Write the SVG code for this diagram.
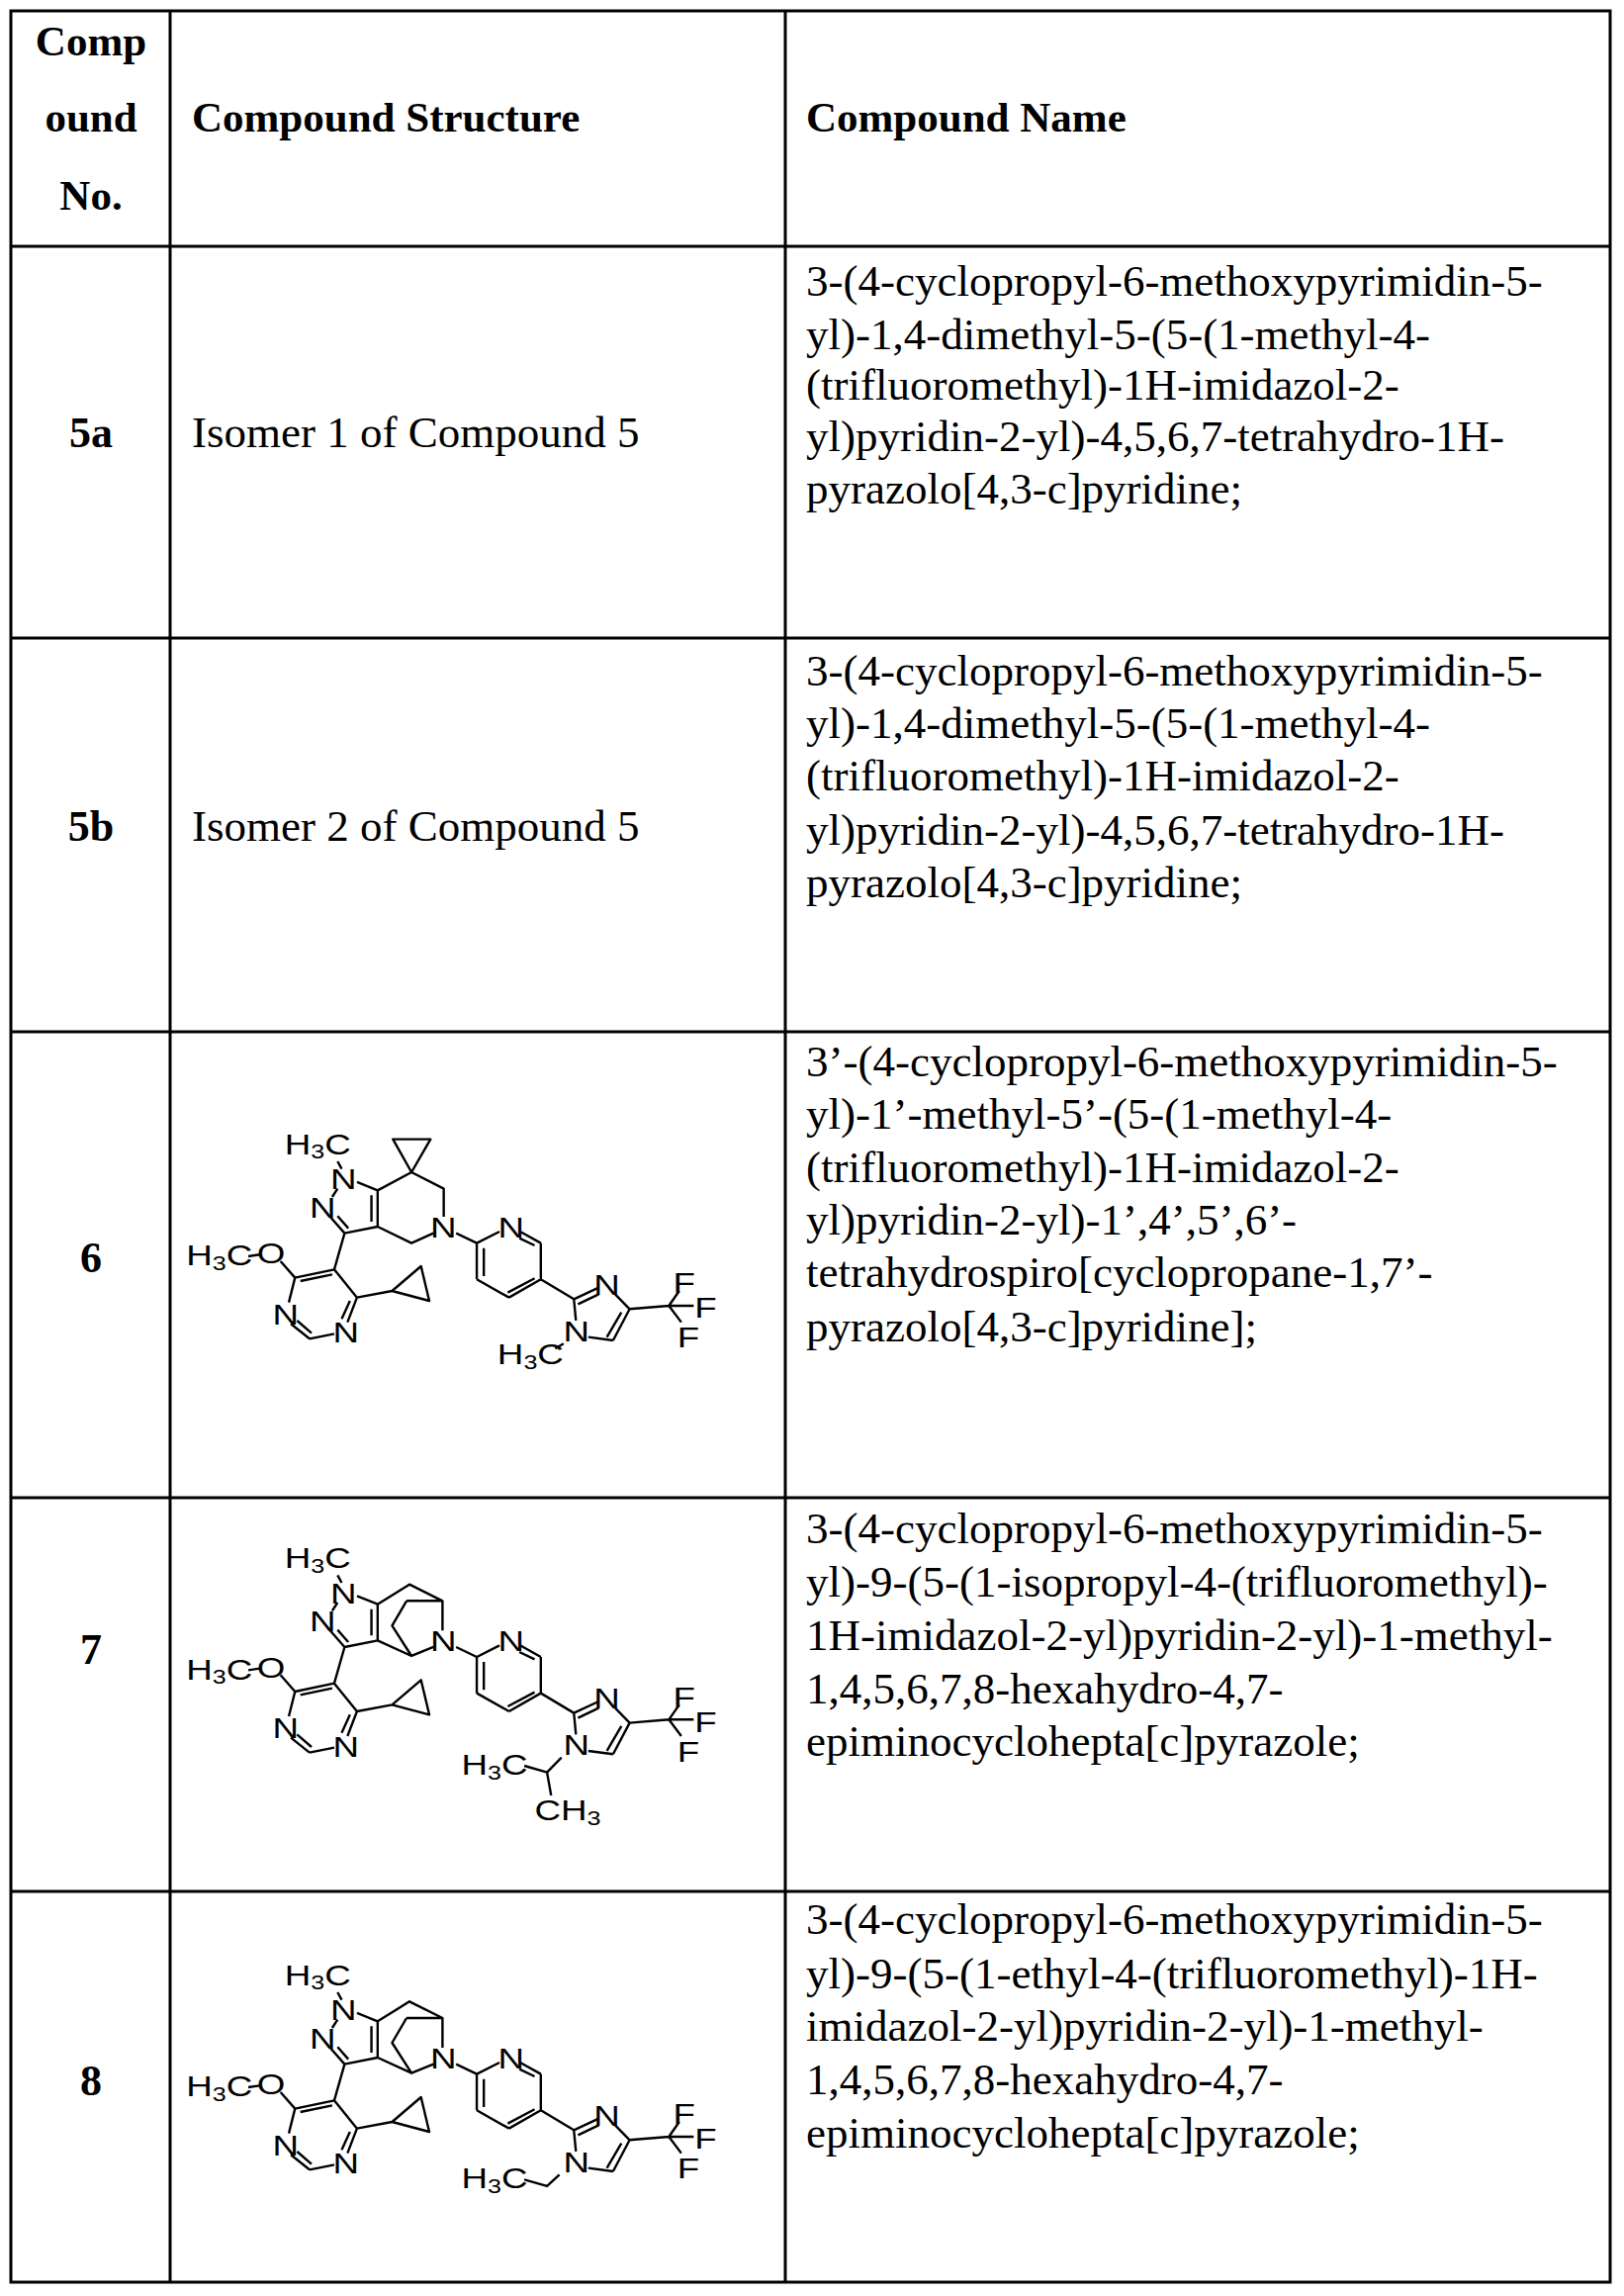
<svg xmlns="http://www.w3.org/2000/svg" xmlns:xlink="http://www.w3.org/1999/xlink" width="1642" height="2321" viewBox="0 0 1642 2321">
<style>
.g{stroke:#000;stroke-width:3;fill:none}
.b{stroke:#000;stroke-width:2.4;fill:none;vector-effect:non-scaling-stroke;stroke-linejoin:round}
.h{font-family:"Liberation Serif",serif;font-weight:bold;font-size:43px}
.n{font-family:"Liberation Serif",serif;font-size:45px}
.nb{font-family:"Liberation Serif",serif;font-weight:bold;font-size:44px;text-anchor:middle}
.a{font-family:"Liberation Sans",sans-serif;font-size:88px;text-anchor:middle}
.s{font-size:60px}
</style>
<defs>
<g id="core">
<text class="a" x="410" y="195">H<tspan class="s" dy="14">3</tspan><tspan dy="-14">C</tspan></text>
<text class="a" x="472" y="302">N</text>
<text class="a" x="422" y="387">N</text>
<text class="a" x="332" y="712">N</text>
<text class="a" x="478" y="767">N</text>
<text class="a" x="297" y="527">O</text>
<text class="a" x="172" y="533">H<tspan class="s" dy="14">3</tspan><tspan dy="-14">C</tspan></text>
<text class="a" x="714" y="447">N</text>
<text class="a" x="878" y="447">N</text>
<text class="a" x="1110" y="622">N</text>
<text class="a" x="1036" y="762">N</text>
<text class="a" x="1297" y="617">F</text>
<text class="a" x="1349" y="692">F</text>
<text class="a" x="1307" y="782">F</text>
<path class="b" d="M458,217L468,240 M505,280L555,305 M458,300L445,325 M440,385L475,435 M458,383L484,420 M475,435L555,415 M555,415L555,305 M540,400L540,320 M475,435L450,545 M450,545L355,570 M445,560L368,580 M355,570L340,645 M345,710L390,755 M360,700L395,738 M390,755L450,740 M482,705L505,630 M468,695L488,640 M505,630L450,545 M505,630L590,610 M590,610L660,535L680,640Z M355,570L320,520 M270,500L242,505 M745,435L795,465 M795,465L850,430 M900,430L950,465 M898,450L935,472 M950,465L950,575 M950,575L873,630 M935,572L870,615 M873,630L795,575 M795,575L795,465 M812,565L812,480 M950,575L1030,635 M1030,635L1090,600 M1040,650L1090,620 M1130,620L1165,665 M1165,665L1125,760 M1145,675L1110,750 M1125,760L1065,750 M1035,700L1030,635 M1165,665L1260,655 M1260,655L1285,610 M1260,655L1320,655 M1260,655L1290,705"/>
</g>
</defs>
<g id="table">
<path class="g" d="M11,11H1628V2307H11Z M172,11V2307 M794,11V2307 M11,249H1628 M11,645H1628 M11,1043H1628 M11,1514H1628 M11,1912H1628"/>
</g>
<g id="header">
<text class="h" x="92" y="56" text-anchor="middle">Comp</text>
<text class="h" x="92" y="133" text-anchor="middle">ound</text>
<text class="h" x="92" y="212" text-anchor="middle">No.</text>
<text class="h" x="194" y="133">Compound Structure</text>
<text class="h" x="815" y="133">Compound Name</text>
</g>
<g id="row5a">
<text class="nb" x="92" y="452">5a</text>
<text class="n" x="194" y="452">Isomer 1 of Compound 5</text>
<text class="n" x="815" y="299">3-(4-cyclopropyl-6-methoxypyrimidin-5-</text>
<text class="n" x="815" y="353">yl)-1,4-dimethyl-5-(5-(1-methyl-4-</text>
<text class="n" x="815" y="404">(trifluoromethyl)-1H-imidazol-2-</text>
<text class="n" x="815" y="456">yl)pyridin-2-yl)-4,5,6,7-tetrahydro-1H-</text>
<text class="n" x="815" y="509">pyrazolo[4,3-c]pyridine;</text>
</g>
<g id="row5b">
<text class="nb" x="92" y="850">5b</text>
<text class="n" x="194" y="850">Isomer 2 of Compound 5</text>
<text class="n" x="815" y="693">3-(4-cyclopropyl-6-methoxypyrimidin-5-</text>
<text class="n" x="815" y="746">yl)-1,4-dimethyl-5-(5-(1-methyl-4-</text>
<text class="n" x="815" y="799">(trifluoromethyl)-1H-imidazol-2-</text>
<text class="n" x="815" y="854">yl)pyridin-2-yl)-4,5,6,7-tetrahydro-1H-</text>
<text class="n" x="815" y="907">pyrazolo[4,3-c]pyridine;</text>
</g>
<g id="row6">
<text class="nb" x="92" y="1286">6</text>
<text class="n" x="815" y="1088">3’-(4-cyclopropyl-6-methoxypyrimidin-5-</text>
<text class="n" x="815" y="1141">yl)-1’-methyl-5’-(5-(1-methyl-4-</text>
<text class="n" x="815" y="1195">(trifluoromethyl)-1H-imidazol-2-</text>
<text class="n" x="815" y="1248">yl)pyridin-2-yl)-1’,4’,5’,6’-</text>
<text class="n" x="815" y="1301">tetrahydrospiro[cyclopropane-1,7’-</text>
<text class="n" x="815" y="1356">pyrazolo[4,3-c]pyridine];</text>
<g id="struct6" transform="translate(150,1050) scale(0.4177,0.3333) translate(0,155)">
<use xlink:href="#core"/>
<path class="b" d="M555,305L637,250 M637,250L592,150L683,150Z M637,250L715,300L715,385 M690,435L637,465L555,415 M1005,770L985,785"/>
<text class="a" x="925" y="832">H<tspan class="s" dy="14">3</tspan><tspan dy="-14">C</tspan></text>
</g>
</g>
<g id="row7">
<text class="nb" x="92" y="1682">7</text>
<text class="n" x="815" y="1560">3-(4-cyclopropyl-6-methoxypyrimidin-5-</text>
<text class="n" x="815" y="1614">yl)-9-(5-(1-isopropyl-4-(trifluoromethyl)-</text>
<text class="n" x="815" y="1668">1H-imidazol-2-yl)pyridin-2-yl)-1-methyl-</text>
<text class="n" x="815" y="1722">1,4,5,6,7,8-hexahydro-4,7-</text>
<text class="n" x="815" y="1775">epiminocyclohepta[c]pyrazole;</text>
<g id="struct7" transform="translate(150,1520) scale(0.4177,0.3333)">
<use xlink:href="#core"/>
<path class="b" d="M555,305L632,245L712,295L712,385 M625,295L712,295 M625,295L590,370L637,462 M690,435L637,462L555,415 M1000,770L965,815L910,795 M965,815L975,885"/>
<text class="a" x="838" y="822">H<tspan class="s" dy="14">3</tspan><tspan dy="-14">C</tspan></text>
<text class="a" x="1015" y="960">CH<tspan class="s" dy="14">3</tspan></text>
</g>
</g>
<g id="row8">
<text class="nb" x="92" y="2118">8</text>
<text class="n" x="815" y="1955">3-(4-cyclopropyl-6-methoxypyrimidin-5-</text>
<text class="n" x="815" y="2010">yl)-9-(5-(1-ethyl-4-(trifluoromethyl)-1H-</text>
<text class="n" x="815" y="2063">imidazol-2-yl)pyridin-2-yl)-1-methyl-</text>
<text class="n" x="815" y="2117">1,4,5,6,7,8-hexahydro-4,7-</text>
<text class="n" x="815" y="2171">epiminocyclohepta[c]pyrazole;</text>
<g id="struct8" transform="translate(150,1920) scale(0.4177,0.3333) translate(0,65)">
<use xlink:href="#core"/>
<path class="b" d="M555,305L632,245L712,295L712,385 M625,295L712,295 M625,295L590,370L637,462 M690,435L637,462L555,415 M995,770L965,805L910,785"/>
<text class="a" x="838" y="812">H<tspan class="s" dy="14">3</tspan><tspan dy="-14">C</tspan></text>
</g>
</g>
</svg>
